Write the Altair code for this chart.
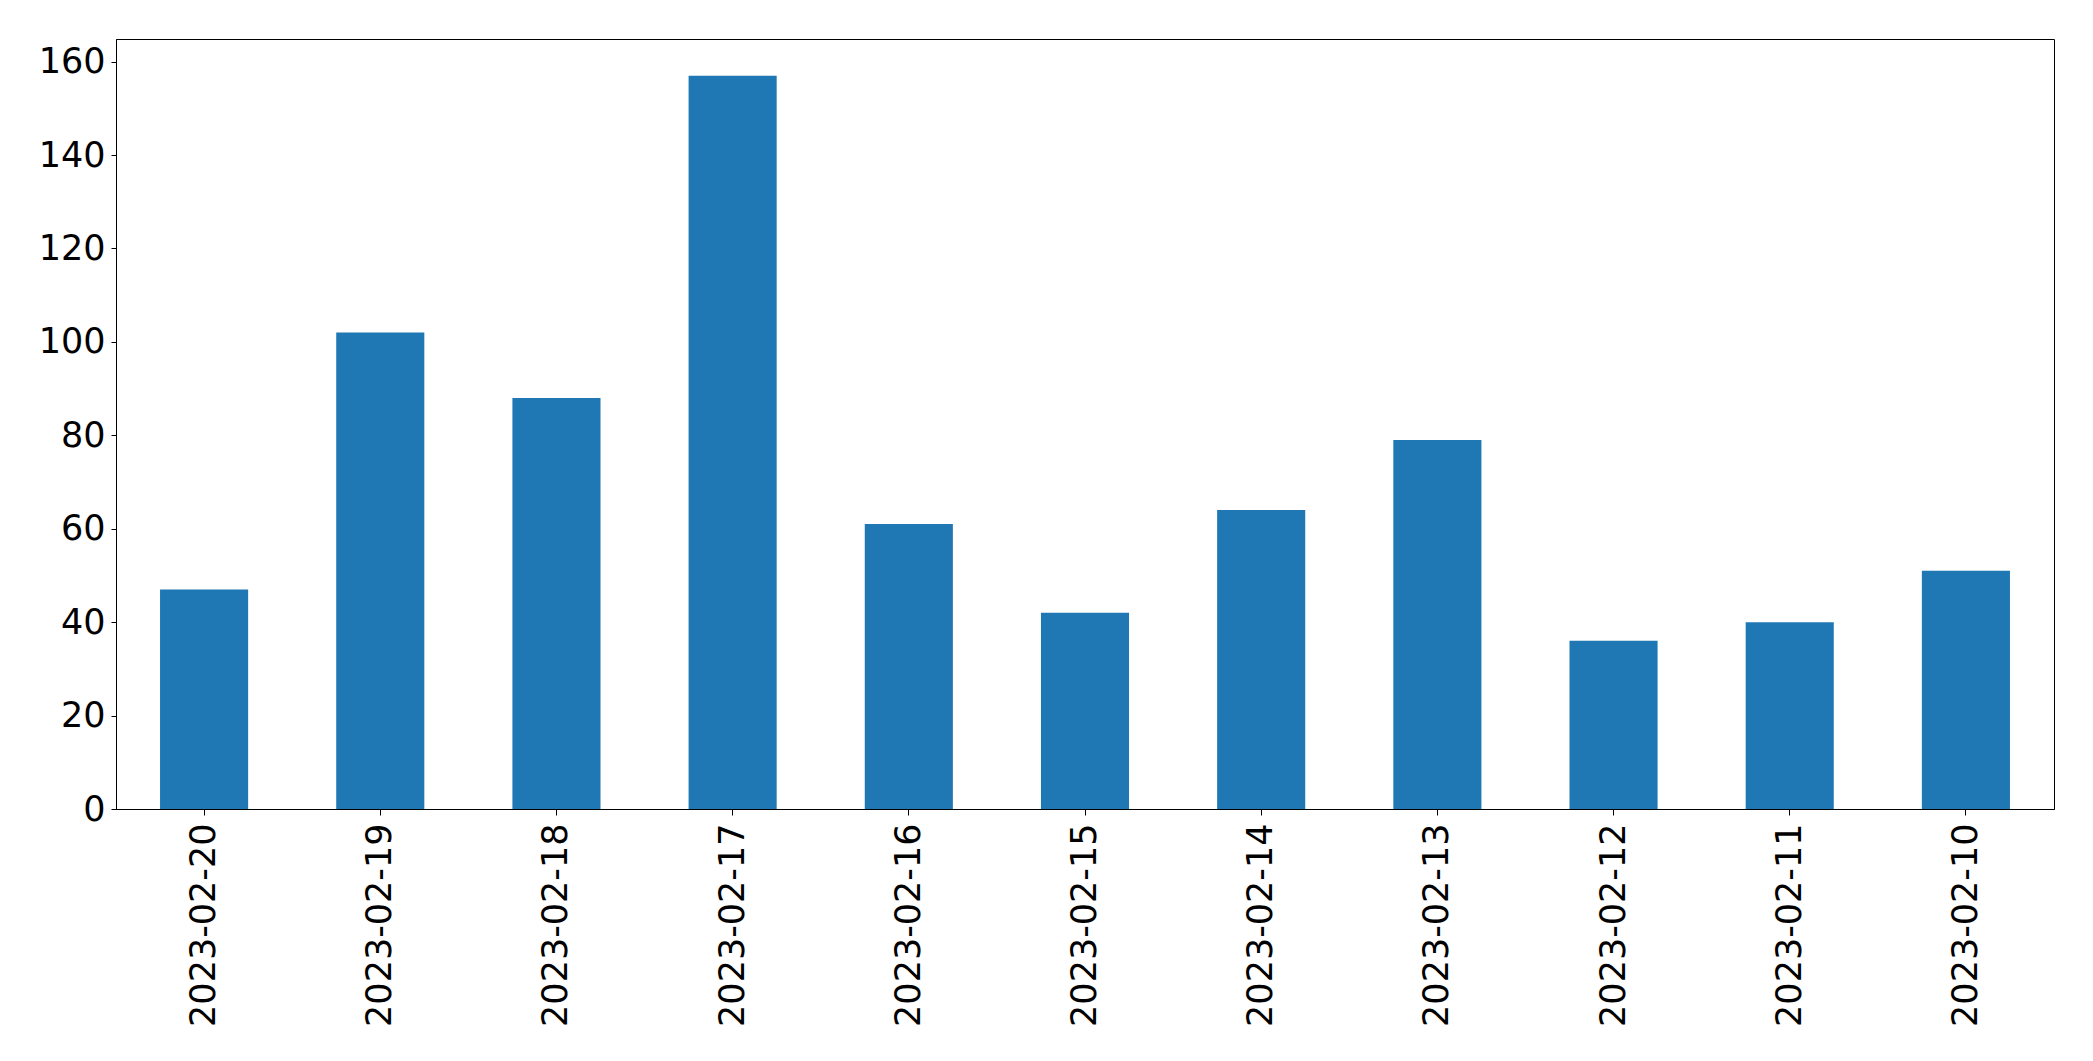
import altair as alt
import pandas as pd

dates = ["2023-02-20", "2023-02-19", "2023-02-18", "2023-02-17", "2023-02-16",
         "2023-02-15", "2023-02-14", "2023-02-13", "2023-02-12", "2023-02-11",
         "2023-02-10"]
counts = [47, 102, 88, 157, 61, 42, 64, 79, 36, 40, 51]
y_ticks = [0, 20, 40, 60, 80, 100, 120, 140, 160]

df = pd.DataFrame({"date": dates, "count": counts})

ymax = max(counts) * 1.05

chart = alt.Chart(df).mark_bar(color="#1f77b4").encode(
    x=alt.X("date:N", sort=dates,
            scale=alt.Scale(paddingInner=0.5, paddingOuter=0.25),
            axis=alt.Axis(title=None, labelAngle=-90, labelFontSize=35,
                          labelFont="DejaVu Sans", labelColor="black",
                          labelLimit=0, labelOverlap=False,
                          tickColor="black", tickSize=6, labelPadding=8,
                          domainColor="black", grid=False)),
    y=alt.Y("count:Q",
            scale=alt.Scale(domain=[0, ymax], nice=False, zero=True),
            axis=alt.Axis(title=None, values=y_ticks, labelFontSize=35,
                          labelFont="DejaVu Sans", labelColor="black",
                          tickColor="black", tickSize=5, labelPadding=6,
                          domainColor="black", grid=False)),
).properties(
    width=1938,
    height=770,
    autosize=alt.AutoSizeParams(type="none"),
    padding={"left": 108, "top": 31, "right": 20, "bottom": 220},
).configure_view(
    stroke="black",
    strokeWidth=1,
)

chart.save("out.html", embed_options={"renderer": "svg", "actions": False})
